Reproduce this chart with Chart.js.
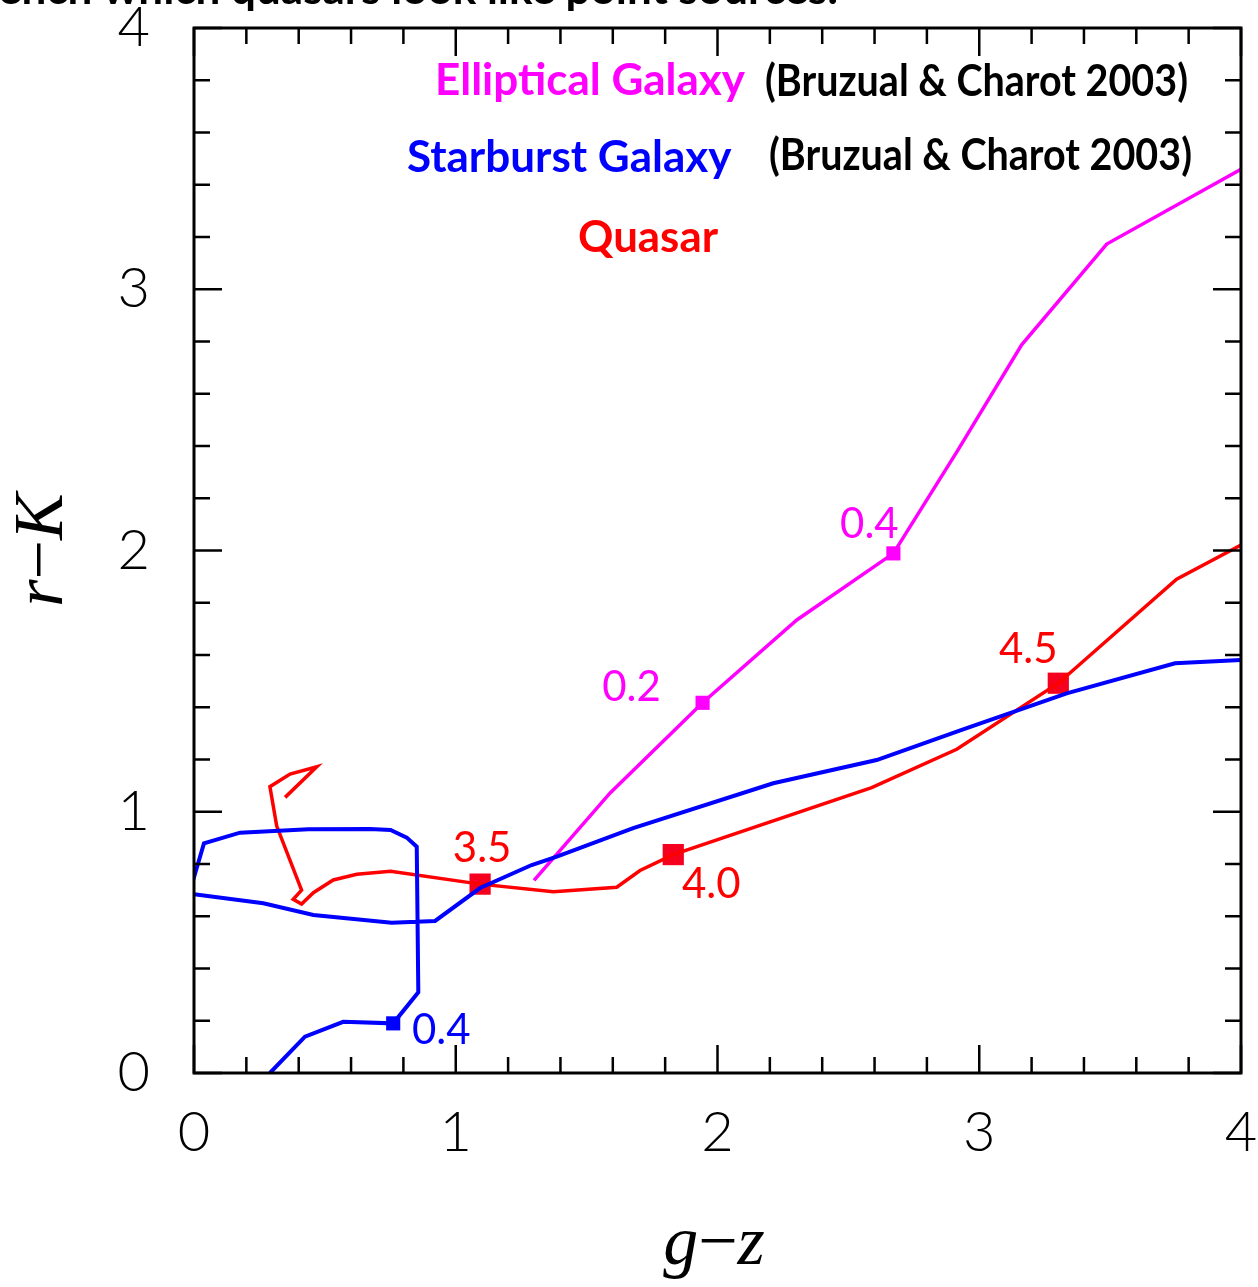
<!DOCTYPE html>
<html>
<head>
<meta charset="utf-8">
<script src="https://cdn.jsdelivr.net/npm/chart.js@4.4.1/dist/chart.umd.min.js"></script>
<style>
  html, body { margin: 0; padding: 0; background: #fff; }
  #wrap { width: 1258px; height: 1287px; position: relative; }
</style>
</head>
<body>
<div id="wrap"><canvas id="c" width="1258" height="1287"></canvas></div>
<script>
// Colour tracks in the (g−z, r−K) plane

// Elliptical galaxy track (Bruzual & Charot 2003)
const ellipticalGZ = [1.299, 1.589, 1.943, 2.303, 2.672, 2.919, 3.162, 3.487, 4.000];
const ellipticalRK = [0.737, 1.071, 1.417, 1.734, 1.989, 2.385, 2.787, 3.173, 3.459];

// Starburst galaxy track (Bruzual & Charot 2003)
const starburstGZ = [0.290, 0.424, 0.570, 0.761, 0.857, 0.851, 0.813, 0.751, 0.672, 0.437,
                     0.176, 0.038, 0.016, -0.003, -0.020, 0.000, 0.265, 0.456, 0.755, 0.921,
                     1.093, 1.290, 1.386, 1.678, 2.213, 2.608, 2.933, 3.334, 3.748, 4.000];
const starburstRK = [0.000, 0.139, 0.196, 0.190, 0.309, 0.866, 0.901, 0.930, 0.934, 0.933,
                     0.920, 0.879, 0.804, 0.739, 0.712, 0.684, 0.650, 0.605, 0.575, 0.582,
                     0.708, 0.796, 0.828, 0.937, 1.109, 1.198, 1.313, 1.453, 1.568, 1.581];

// Quasar track
const quasarGZ = [0.348, 0.469, 0.367, 0.290, 0.316, 0.411, 0.379, 0.411, 0.456, 0.532,
                  0.622, 0.751, 1.093, 1.373, 1.615, 1.704, 1.831, 2.589, 2.914, 3.302,
                  3.754, 4.000];
const quasarRK = [1.055, 1.172, 1.144, 1.096, 0.945, 0.700, 0.665, 0.647, 0.690, 0.739,
                  0.761, 0.772, 0.723, 0.694, 0.711, 0.775, 0.836, 1.092, 1.239, 1.492,
                  1.890, 2.021];

// Redshift markers along each track
const ellipticalZLabels = ['0.2', '0.4'];
const ellipticalZGZ = [1.943, 2.672];
const ellipticalZRK = [1.417, 1.989];

const starburstZLabels = ['0.4'];
const starburstZGZ = [0.761];
const starburstZRK = [0.190];

const quasarZLabels = ['3.5', '4.0', '4.5'];
const quasarZGZ = [1.093, 1.831, 3.302];
const quasarZRK = [0.723, 0.836, 1.492];

// Axis tick labels
const axisTicks = [0, 1, 2, 3, 4];
const axisMin = 0, axisMax = 4, minorStep = 0.2;

const pts = (xs, ys) => xs.map((x, i) => ({ x, y: ys[i] }));

const MAGENTA = '#ff00ff', BLUE = '#0000ff', RED = '#ff0000', RED_MARK = '#f5001e';

// Where each redshift label sits relative to its marker (pixels)
const labelOffsets = {
  elliptical: [[-71, -15], [-24, -29]],
  starburst: [[48, 7]],
  quasar: [[2, -36], [38, 30], [-30, -34]]
};

const framePlugin = {
  id: 'frame',
  afterDatasetsDraw(chart) {
    const { ctx, chartArea: a, scales: { x, y } } = chart;
    ctx.save();
    ctx.strokeStyle = '#000';
    ctx.lineWidth = 2.5;
    ctx.lineCap = 'butt';
    // inward ticks on all four sides
    const n = Math.round((axisMax - axisMin) / minorStep);
    for (let i = 0; i <= n; i++) {
      const v = axisMin + i * minorStep;
      const major = Math.abs(v - Math.round(v)) < 1e-6;
      const len = major ? 28 : 16;
      const px = x.getPixelForValue(v);
      const py = y.getPixelForValue(v);
      ctx.beginPath();
      ctx.moveTo(px, a.bottom); ctx.lineTo(px, a.bottom - len);
      ctx.moveTo(px, a.top); ctx.lineTo(px, a.top + len);
      ctx.moveTo(a.left, py); ctx.lineTo(a.left + len, py);
      ctx.moveTo(a.right, py); ctx.lineTo(a.right - len, py);
      ctx.stroke();
    }
    ctx.lineWidth = 3;
    ctx.strokeRect(a.left, a.top, a.right - a.left, a.bottom - a.top);

    // redshift labels next to the markers
    ctx.font = '400 42px Lato, "Open Sans", sans-serif';
    ctx.textAlign = 'center';
    ctx.textBaseline = 'middle';
    const drawZ = (labels, gz, rk, offs, color) => {
      ctx.fillStyle = color;
      labels.forEach((t, i) => {
        const px = x.getPixelForValue(gz[i]) + offs[i][0];
        const py = y.getPixelForValue(rk[i]) + offs[i][1];
        ctx.fillText(t, px, py, 62);
      });
    };
    drawZ(ellipticalZLabels, ellipticalZGZ, ellipticalZRK, labelOffsets.elliptical, MAGENTA);
    drawZ(starburstZLabels, starburstZGZ, starburstZRK, labelOffsets.starburst, BLUE);
    drawZ(quasarZLabels, quasarZGZ, quasarZRK, labelOffsets.quasar, RED);

    // key text
    const boldFont = '700 44px Lato, "Open Sans", sans-serif';
    const keyText = (t, x0, x1, yc, color) => {
      ctx.font = boldFont;
      ctx.fillStyle = color;
      ctx.textAlign = 'left';
      ctx.textBaseline = 'middle';
      ctx.fillText(t, x0, yc, x1 - x0);
    };
    keyText('Elliptical Galaxy', 435, 745, 81, MAGENTA);
    keyText('(Bruzual & Charot 2003)', 765, 1188, 82, '#000');
    keyText('Starburst Galaxy', 407, 735, 158, BLUE);
    keyText('(Bruzual & Charot 2003)', 769, 1192, 156, '#000');
    keyText('Quasar', 578, 718, 238, RED);

    // caption line running off the top edge
    ctx.font = boldFont;
    ctx.fillStyle = '#000';
    ctx.textBaseline = 'alphabetic';
    ctx.fillText('ench which quasars look like point sources.', -2, 4, 864);

    // axis titles
    const serifI = 'italic 400 70px "Liberation Serif", "DejaVu Serif", serif';
    const serifR = '400 70px "Liberation Serif", "DejaVu Serif", serif';
    const title = (parts, cx, cy, rot) => {
      ctx.save();
      ctx.translate(cx, cy);
      ctx.rotate(rot);
      ctx.fillStyle = '#000';
      ctx.textBaseline = 'alphabetic';
      ctx.textAlign = 'left';
      let w = 0;
      parts.forEach(p => { ctx.font = p[1] ? serifI : serifR; w += ctx.measureText(p[0]).width; });
      let xx = -w / 2;
      parts.forEach(p => {
        ctx.font = p[1] ? serifI : serifR;
        ctx.fillText(p[0], xx, 0);
        xx += ctx.measureText(p[0]).width;
      });
      ctx.restore();
    };
    title([['g', true], ['\u2212', false], ['z', true]], 714, 1264, 0);
    title([['r', true], ['\u2212', false], ['K', true]], 62, 550, -Math.PI / 2);
    ctx.restore();
  }
};

const tickFont = { family: 'Lato, "Liberation Sans", sans-serif', size: 56, weight: 300 };

// keep the plot frame fixed: labels may overhang the frame without shrinking it
const noOverhang = s => { s.paddingTop = 0; s.paddingBottom = 0; s.paddingLeft = 0; s.paddingRight = 0; };

new Chart(document.getElementById('c'), {
  type: 'scatter',
  data: {
    datasets: [
      { label: 'Starburst Galaxy', data: pts(starburstGZ, starburstRK), showLine: true,
        borderColor: BLUE, borderWidth: 4, pointRadius: 0, tension: 0 },
      { label: 'Quasar', data: pts(quasarGZ, quasarRK), showLine: true,
        borderColor: RED, borderWidth: 3.5, pointRadius: 0, tension: 0 },
      { label: 'Elliptical Galaxy', data: pts(ellipticalGZ, ellipticalRK), showLine: true,
        borderColor: MAGENTA, borderWidth: 3.5, pointRadius: 0, tension: 0 },
      { label: 'Elliptical z', data: pts(ellipticalZGZ, ellipticalZRK), pointStyle: 'rect',
        pointRadius: 10, pointBorderWidth: 0, backgroundColor: MAGENTA, borderColor: MAGENTA },
      { label: 'Starburst z', data: pts(starburstZGZ, starburstZRK), pointStyle: 'rect',
        pointRadius: 10, pointBorderWidth: 0, backgroundColor: BLUE, borderColor: BLUE },
      { label: 'Quasar z', data: pts(quasarZGZ, quasarZRK), pointStyle: 'rect',
        pointRadius: 15, pointBorderWidth: 0, backgroundColor: RED_MARK, borderColor: RED_MARK }
    ]
  },
  options: {
    responsive: false,
    animation: false,
    events: [],
    layout: { padding: { top: 28, right: 17, left: 0, bottom: 0 } },
    plugins: { legend: { display: false }, tooltip: { enabled: false }, title: { display: false } },
    scales: {
      x: {
        type: 'linear', position: 'bottom', min: axisMin, max: axisMax,
        afterBuildTicks: s => { s.ticks = axisTicks.map(v => ({ value: v })); },
        afterFit: s => { s.height = 214; noOverhang(s); },
        grid: { display: false, drawTicks: false },
        border: { display: false },
        ticks: { color: '#000', font: tickFont, padding: 26, maxRotation: 0, autoSkip: false }
      },
      y: {
        type: 'linear', position: 'left', min: axisMin, max: axisMax,
        afterBuildTicks: s => { s.ticks = axisTicks.map(v => ({ value: v })); },
        afterFit: s => { s.width = 194; noOverhang(s); },
        grid: { display: false, drawTicks: false },
        border: { display: false },
        ticks: { color: '#000', font: tickFont, padding: 44, autoSkip: false }
      }
    }
  },
  plugins: [framePlugin]
});
</script>
</body>
</html>
